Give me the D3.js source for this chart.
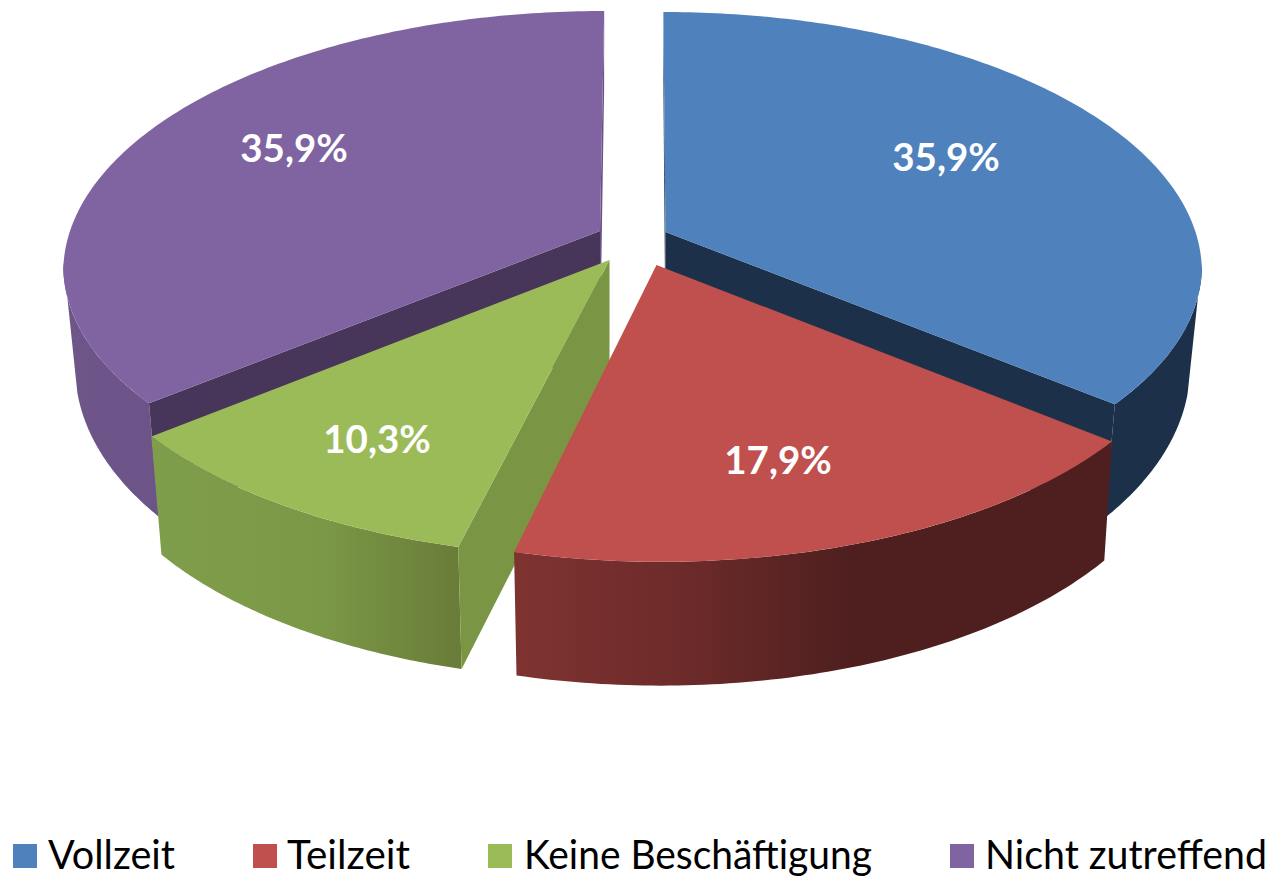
<!DOCTYPE html>
<html><head><meta charset="utf-8">
<script src="https://cdn.jsdelivr.net/npm/d3@7"></script>
<style>html,body{margin:0;padding:0;background:#fff}svg{display:block}</style>
</head><body><svg id="c" width="1274" height="880"></svg>
<script>
const categories = ["Vollzeit","Teilzeit","Keine Beschäftigung","Nicht zutreffend"];
const values = [35.9,17.9,10.3,35.9];
const valueLabels = ["35,9%","17,9%","10,3%","35,9%"];
const topColors = ["#4F81BD","#C0504D","#9BBB59","#8064A2"];

// layout
const cx=632.5;
const S=530,T=252.7,K=0.1485;
const apex=[[665.5,232],[656.5,265],[609.5,260],[600,231]];
const shiftAdj=[0.5,1,1,1];
const xAdj=[-0.012,0,0.006,-0.012], yAdj=[-0.023,0,0,-0.023];
const depths=[98,112,112,98], yBulge=[1.09,1.04,1.035,1.09], xShrink=[0.978,0.983,0.978,0.978];
const faceDepth=119;
const labelAt=[[946,157],[778,460],[377,439],[294,148]];
const legendSw=[13,253,488,950], legendTx=[[48,127],[287,123],[524,348],[985,282]];

const svg=d3.select("#c");
const slices=d3.pie().sort(null).value(d=>d)(values);
const ramp=d3.scaleLinear().domain([0.15,0.63]).range([0,1]).clamp(true);

function rimTop(i,t){
  const u=Math.sin(t), v=-Math.cos(t), d=1/(1-K*v), [ax,ay]=apex[i], r=ramp(v);
  return [ax+shiftAdj[i]*(ax-cx)*(d-1)+(1+xAdj[i]*r)*S*u*d, ay+(1+yAdj[i]*r)*T*v*d];
}
function rimBot(i,t){
  const [x,y]=rimTop(i,t), [ax,ay]=apex[i];
  return [ax+(x-ax)*xShrink[i], ay+(y-ay)*yBulge[i]+depths[i]];
}
const angles=(a,b,n=80)=>d3.range(n+1).map(k=>a+(b-a)*k/n);
const line=d3.line();

const defs=svg.append("defs");
function grad(id,stops){
  const g=defs.append("linearGradient").attr("id",id).attr("gradientUnits","userSpaceOnUse")
    .attr("x1",stops[0][0]).attr("x2",stops[stops.length-1][0]).attr("y1",0).attr("y2",0);
  const x0=stops[0][0],x1=stops[stops.length-1][0];
  stops.forEach(s=>g.append("stop").attr("offset",(s[0]-x0)/(x1-x0)).attr("stop-color",s[1]));
}
grad("wRed",[[513,"#7F3331"],[700,"#6A2A29"],[850,"#4F1F1F"],[1110,"#4F1F1F"]]);
grad("wGreen",[[150,"#7F9E4B"],[320,"#7B9847"],[460,"#697C38"]]);
grad("wPurple",[[68,"#6F5689"],[160,"#6C5388"]]);

const rad=d=>d*Math.PI/180;
const wallFill=["#1D3049","url(#wRed)","url(#wGreen)","url(#wPurple)"];
// where the outer wall is visible: top-rim and bottom-rim angle ranges
const wallRange=[
  [rad(97),rad(129.24),rad(103),rad(129.24)],
  null,null,
  [rad(230.76),rad(263),rad(230.76),rad(257)]
];

function wall(g,i,r,fill){
  const pts=angles(r[0],r[1]).map(t=>rimTop(i,t)).concat(angles(r[2],r[3]).map(t=>rimBot(i,t)).reverse());
  g.append("path").attr("d",line(pts)+"Z").attr("fill",fill);
}
function face(g,i,t,fill){
  const pts=[apex[i],rimTop(i,t),rimBot(i,t),[apex[i][0],apex[i][1]+faceDepth]];
  g.append("path").attr("d",line(pts)+"Z").attr("fill",fill);
}
[3,0,2,1].forEach(i=>{
  const s=slices[i], g=svg.append("g");
  const r=wallRange[i]||[s.startAngle,s.endAngle,s.startAngle,s.endAngle];
  if(i===0) face(g,i,s.startAngle,"#2A3F5F");
  if(i===3) face(g,i,s.endAngle,"#6A5288");
  wall(g,i,r,wallFill[i]);
  if(i===0) face(g,i,s.endAngle,"#1D3049");
  if(i===3) face(g,i,s.startAngle,"#47365A");
  if(i===2) face(g,i,s.startAngle,"#7A9645");
  const pts=[apex[i]].concat(angles(s.startAngle,s.endAngle,160).map(t=>rimTop(i,t)));
  g.append("path").attr("d",line(pts)+"Z").attr("fill",topColors[i]);
});

const fontF="Lato, 'Open Sans', sans-serif";
svg.append("g").selectAll("text").data(valueLabels).join("text")
  .attr("x",(d,i)=>labelAt[i][0]).attr("y",(d,i)=>labelAt[i][1]+14)
  .attr("text-anchor","middle").attr("fill","#fff").attr("font-family",fontF)
  .attr("font-weight",700).attr("font-size",38.5).text(d=>d);

const lg=svg.append("g");
lg.selectAll("rect").data(categories).join("rect")
  .attr("x",(d,i)=>legendSw[i]).attr("y",844).attr("width",24).attr("height",24)
  .attr("fill",(d,i)=>topColors[i]);
lg.selectAll("text").data(categories).join("text")
  .attr("x",(d,i)=>legendTx[i][0]).attr("y",869)
  .attr("textLength",(d,i)=>legendTx[i][1]).attr("lengthAdjust","spacingAndGlyphs")
  .attr("font-family",fontF).attr("font-size",40).attr("fill","#000").text(d=>d);
</script></body></html>
